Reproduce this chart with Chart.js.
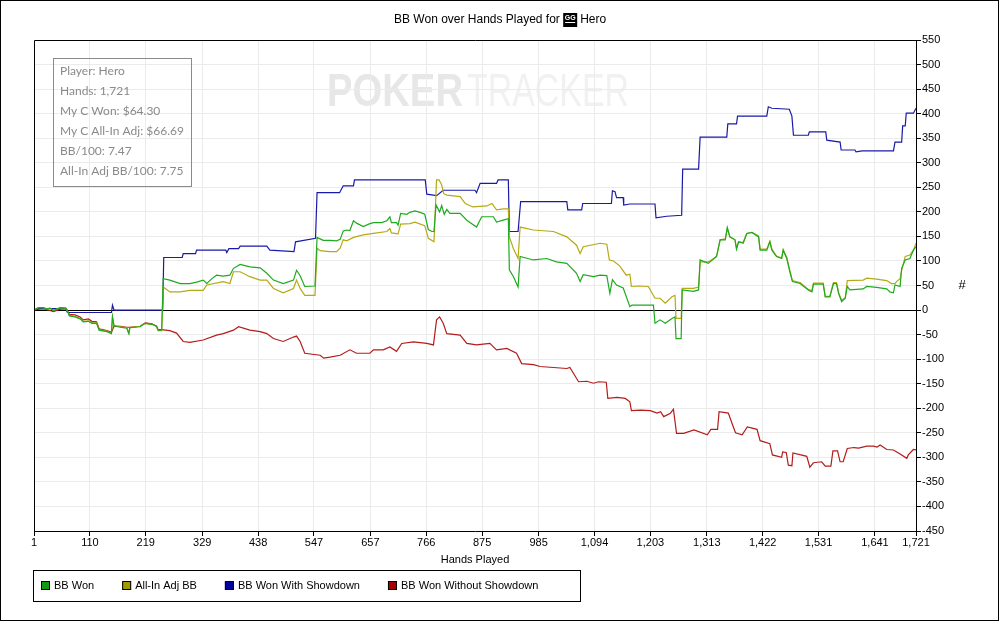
<!DOCTYPE html>
<html>
<head>
<meta charset="utf-8">
<title>BB Won over Hands Played for Hero</title>
<script src="https://cdn.jsdelivr.net/npm/chart.js@4.4.0/dist/chart.umd.min.js"></script>
<style>
html, body { margin: 0; padding: 0; background: #fff; }
canvas { display: block; }
</style>
</head>
<body>
<canvas id="graph" width="999" height="621"></canvas>
<script>
// axis ticks
const handTicks = [1, 110, 219, 329, 438, 547, 657, 766, 875, 985, 1094, 1203, 1313, 1422, 1531, 1641, 1721];
const infoLines = ['Player: Hero', 'Hands: 1,721', 'My C Won: $64.30', 'My C All-In Adj: $66.69', 'BB/100: 7.47', 'All-In Adj BB/100: 7.75'];

// BB Won
const wonHands = [1,10,19,26,32,39,52,63,66,70,81,91,97,107,114,123,128,143,152,154,
  157,169,182,186,188,208,218,231,240,243,250,
  253,266,286,305,318,331,338,348,357,370,383,390,403,422,442,455,468,487,507,513,520,529,549,
  553,559,565,578,591,598,604,611,617,624,630,643,656,663,679,689,695,698,708,711,
  716,728,734,744,754,763,770,777,781,785,
  792,796,801,806,812,832,845,864,874,897,903,916,926,928,936,945,949,975,1001,1020,1040,
  1059,1066,1072,1092,1105,1118,1124,1129,1137,1150,1163,1167,1209,1212,1222,1232,1245,1251,1253,1263,
  1265,1287,1297,1300,1316,1332,1339,1349,1353,1358,1368,1371,1375,1384,1391,1401,1414,1417,1430,1436,
  1440,1449,1459,1462,1469,1475,1480,1495,1511,1518,1521,1540,1544,1553,1560,1566,1570,1576,1583,1587,
  1592,1618,1625,1644,1664,1670,1677,1680,1690,1693,1700,1709,1716,1721];
const wonBB = [0,5,5,2,4,-1,5,4,-1,-12,-14,-18,-24,-23,-27,-27,-41,-44,-48,-14,
  -32,-35,-37,-48,-36,-34,-27,-29,-33,-41,-41,
  64,61,54,54,57,61,54,64,71,69,71,85,93,88,86,75,61,54,61,81,70,48,49,
  148,145,142,142,141,144,161,163,162,182,177,170,176,178,178,182,190,178,178,173,
  197,195,199,202,199,195,164,160,160,214,
  200,213,195,205,197,197,183,169,190,190,179,183,186,82,68,47,109,102,105,98,95,
  75,58,72,68,71,70,34,62,51,45,7,10,10,-27,-20,-27,-17,-14,-58,-58,
  41,38,41,102,95,109,143,143,168,149,143,124,139,136,156,158,149,122,122,139,
  122,109,105,122,105,78,58,54,41,37,53,53,27,27,54,54,34,17,24,48,
  41,43,48,46,43,37,35,51,48,85,102,105,122,129];

// All-In Adj BB
const adjHands = [1,10,19,26,32,39,52,63,66,70,81,91,97,107,114,123,128,143,152,154,
  157,169,182,186,188,208,218,231,240,243,250,
  253,266,286,305,318,331,338,370,383,390,403,422,442,455,468,487,507,513,520,529,549,
  553,559,578,591,598,604,611,624,643,663,689,695,698,711,716,734,744,763,770,781,
  786,791,796,800,806,832,842,857,884,894,903,916,926,928,936,945,949,975,1014,1040,
  1059,1066,1072,1105,1118,1123,1131,1143,1156,1163,1166,1180,1199,1212,1222,1232,1245,1251,1253,1263,
  1265,1287,1297,1300,1316,1332,1339,1349,1353,1358,1368,1371,1375,1384,1391,1401,1414,1417,1430,1436,
  1440,1449,1459,1462,1469,1475,1480,1495,1511,1518,1521,1540,1544,1553,1560,1566,1570,1576,1583,1587,
  1618,1625,1644,1664,1673,1680,1683,1690,1693,1700,1709,1716,1721];
const adjBB = [0,5,5,2,4,-1,5,4,-1,-11,-13,-17,-23,-22,-26,-26,-40,-43,-47,-14,
  -31,-34,-36,-47,-35,-33,-27,-29,-33,-42,-42,
  47,37,37,40,40,40,51,58,54,78,78,68,61,61,44,35,44,61,44,30,30,
  126,121,119,119,126,143,141,148,153,156,160,166,157,155,175,176,179,172,146,139,
  265,265,255,237,234,231,217,210,212,217,204,206,206,149,125,105,169,163,160,149,
  132,115,129,136,134,102,100,90,71,73,48,49,48,24,24,14,27,30,-17,-17,
  44,44,47,98,98,109,143,145,166,149,143,126,139,138,156,158,151,124,124,140,
  124,110,106,123,107,80,60,56,42,39,55,55,28,28,56,56,36,20,25,60,
  61,65,63,60,54,54,58,64,81,109,112,122,136];

// BB Won With Showdown
const sdHands = [1,10,52,63,66,152,154,157,252,254,290,292,316,318,375,377,381,400,403,455,
  461,508,511,550,553,597,604,624,626,764,767,786,799,861,864,871,903,906,926,928,
  945,950,1040,1042,1069,1071,1127,1129,1134,1137,1150,1151,1163,1212,1214,1235,1264,1266,1297,1300,
  1352,1354,1371,1373,1430,1433,1440,1474,1479,1482,1511,1513,1545,1547,1573,1575,1602,1604,1616,1677,
  1680,1693,1695,1700,1702,1716,1721];
const sdBB = [0,3,3,3,-5,-5,10,0,0,107,107,115,115,122,122,117,125,125,130,130,
  122,119,139,146,239,239,253,253,265,265,236,233,244,244,239,258,258,265,265,160,
  160,221,221,204,204,217,217,243,241,229,229,214,216,216,188,191,193,287,287,352,
  352,379,379,395,395,414,411,409,395,356,356,363,363,346,342,326,326,322,324,324,
  342,342,375,375,401,401,411];

// BB Won Without Showdown
const nsdHands = [1,10,19,32,39,52,63,66,70,81,91,97,107,114,123,128,143,152,157,169,
  182,188,208,218,231,240,243,250,
  266,279,292,305,331,357,370,390,400,422,442,455,468,487,507,513,520,529,559,566,
  578,598,617,630,656,663,682,695,708,718,741,767,780,786,792,799,806,832,845,864,
  890,903,923,942,952,975,988,1014,1040,1046,1063,1079,1092,1102,1117,1120,1138,1154,1163,1166,
  1184,1203,1216,1223,1229,1242,1248,1254,1268,1288,1314,1321,1334,1337,1355,1362,1369,1382,1392,1411,
  1417,1436,1441,1459,1461,1468,1472,1479,1481,1508,1514,1521,1537,1544,1555,1559,1568,1573,1579,1587,
  1600,1609,1625,1638,1645,1651,1664,1677,1690,1703,1706,1716,1721];
const nsdBB = [0,2,3,-1,-3,2,3,-1,-9,-10,-14,-20,-18,-23,-24,-38,-42,-45,-33,-33,
  -35,-35,-33,-26,-28,-33,-40,-40,
  -42,-47,-64,-66,-61,-51,-48,-41,-34,-41,-44,-48,-58,-64,-55,-53,-64,-88,-92,-98,
  -96,-92,-81,-88,-88,-81,-81,-75,-84,-68,-65,-68,-71,-20,-14,-27,-48,-51,-68,-71,
  -68,-81,-78,-88,-109,-111,-115,-117,-119,-117,-146,-145,-149,-146,-147,-180,-178,-180,-187,-205,
  -204,-205,-210,-207,-217,-210,-202,-251,-251,-244,-254,-243,-243,-207,-210,-230,-250,-254,-238,-243,
  -266,-272,-295,-300,-289,-290,-316,-317,-291,-298,-320,-311,-309,-318,-318,-287,-287,-309,-309,-282,
  -280,-281,-277,-277,-279,-275,-284,-285,-293,-302,-295,-284,-285];

const FONT = '"Liberation Sans", Arial, sans-serif';

function points(hands, values) {
    var out = [];
    for (var i = 0; i < Math.min(hands.length, values.length); i++) {
        out.push({x: hands[i], y: values[i]});
    }
    return out;
}

function series(label, hands, values, color, keyColor) {
    return {
        label: label,
        data: points(hands, values),
        borderColor: color,
        backgroundColor: keyColor,
        borderWidth: 1.2,
        pointRadius: 0,
        tension: 0,
        fill: false
    };
}

// title, watermark, info box, frame and legend
const decorations = {
    id: 'decorations',
    beforeDraw(chart) {
        // watermark sits under the grid
        const ctx = chart.ctx;
        ctx.save();
        ctx.textBaseline = 'alphabetic';
        ctx.font = 'bold 46px "Liberation Sans Narrow", "Liberation Sans", sans-serif';
        var w = ctx.measureText('POKER').width;
        ctx.fillStyle = '#e7e7e7';
        ctx.save();
        ctx.translate(327, 106);
        ctx.scale(136 / w, 1);
        ctx.fillText('POKER', 0, 0);
        ctx.restore();
        ctx.font = '46px "Liberation Sans Narrow", "Liberation Sans", sans-serif';
        w = ctx.measureText('TRACKER').width;
        ctx.fillStyle = '#f1f1f1';
        ctx.translate(467, 106);
        ctx.scale(162 / w, 1);
        ctx.fillText('TRACKER', 0, 0);
        ctx.restore();
    },
    afterDraw(chart) {
        const ctx = chart.ctx;
        const area = chart.chartArea;
        ctx.save();

        // plot frame (left and top sides)
        ctx.strokeStyle = '#000';
        ctx.lineWidth = 1;
        ctx.beginPath();
        ctx.moveTo(Math.round(area.left) + 0.5, Math.round(area.bottom));
        ctx.lineTo(Math.round(area.left) + 0.5, Math.round(area.top) + 0.5);
        ctx.lineTo(Math.round(area.right), Math.round(area.top) + 0.5);
        ctx.stroke();

        // y axis title, upright
        ctx.font = '13px ' + FONT;
        ctx.fillStyle = '#000';
        ctx.textAlign = 'center';
        ctx.textBaseline = 'middle';
        ctx.fillText('#', 962, (area.top + area.bottom) / 2);
        ctx.textAlign = 'left';

        // title
        ctx.font = '12px ' + FONT;
        const t1 = 'BB Won over Hands Played for ';
        const t2 = 'Hero';
        const w1 = ctx.measureText(t1).width;
        const w2 = ctx.measureText(t2).width;
        let x = Math.round(500 - (w1 + 17 + w2) / 2);
        ctx.fillText(t1, x, 20);
        x += w1;
        ctx.fillRect(x, 13, 14, 14);
        ctx.fillStyle = '#fff';
        ctx.font = 'bold 7px ' + FONT;
        ctx.textAlign = 'center';
        ctx.fillText('GG', x + 7, 18);
        ctx.fillRect(x + 2, 22, 10, 1);
        ctx.textAlign = 'left';
        ctx.fillStyle = '#000';
        ctx.font = '12px ' + FONT;
        ctx.fillText(t2, x + 17, 20);

        // info box
        ctx.strokeStyle = '#8a8a8a';
        ctx.strokeRect(53.5, 58.5, 138, 128);
        ctx.fillStyle = '#8a8a8a';
        ctx.font = '12px Lato, "Open Sans", sans-serif';
        infoLines.forEach(function(line, i) {
            ctx.fillText(line, 60, 71 + i * 20);
        });

        // legend
        ctx.font = '11px ' + FONT;
        ctx.strokeStyle = '#000';
        ctx.strokeRect(33.5, 570.5, 547, 31);
        x = 41;
        chart.data.datasets.forEach(function(ds) {
            ctx.fillStyle = ds.backgroundColor;
            ctx.fillRect(x, 581, 9, 9);
            ctx.strokeRect(x + 0.5, 581.5, 8, 8);
            ctx.fillStyle = '#000';
            ctx.fillText(ds.label, x + 13, 586);
            x += 13 + ctx.measureText(ds.label).width + 28;
        });

        // outer border
        ctx.strokeRect(0.5, 0.5, 998, 620);
        ctx.restore();
    }
};

const ctx = document.getElementById('graph').getContext('2d');
window.bbGraph = new Chart(ctx, {
    type: 'line',
    data: {
        datasets: [
            series('BB Won', wonHands, wonBB, '#1eaa1e', '#129a12'),
            series('All-In Adj BB', adjHands, adjBB, '#b4aa14', '#a09a00'),
            series('BB Won With Showdown', sdHands, sdBB, '#1a1aaa', '#0000a0'),
            series('BB Won Without Showdown', nsdHands, nsdBB, '#b41c1c', '#a80000')
        ]
    },
    options: {
        responsive: false,
        animation: false,
        devicePixelRatio: 1,
        layout: {padding: {left: 34, top: 40, right: 30, bottom: 50}},
        plugins: {legend: {display: false}, tooltip: {enabled: false}},
        scales: {
            x: {
                type: 'linear',
                min: 1,
                max: 1721,
                afterBuildTicks: function(scale) {
                    scale.ticks = handTicks.map(function(v) { return {value: v}; });
                },
                afterFit: function(scale) { scale.height = 40; },
                grid: {color: '#ebebeb', tickColor: '#000', tickLength: 5},
                border: {display: true, color: '#000'},
                ticks: {
                    autoSkip: false,
                    maxRotation: 0,
                    padding: 0,
                    color: '#000',
                    font: {family: FONT, size: 11},
                    callback: function(v) { return v.toLocaleString('en-US'); }
                },
                title: {display: true, text: 'Hands Played', color: '#000', font: {family: FONT, size: 11}, padding: {top: 4, bottom: 4}}
            },
            y: {
                position: 'right',
                min: -450,
                max: 550,
                afterFit: function(scale) { scale.width = 53; },
                grid: {
                    color: function(c) { return c.tick && c.tick.value === 0 ? '#000' : '#ebebeb'; },
                    tickColor: '#000',
                    tickLength: 5
                },
                border: {display: true, color: '#000'},
                ticks: {stepSize: 50, padding: 1, color: '#000', font: {family: FONT, size: 11}}
            }
        }
    },
    plugins: [decorations]
});
</script>
</body>
</html>
